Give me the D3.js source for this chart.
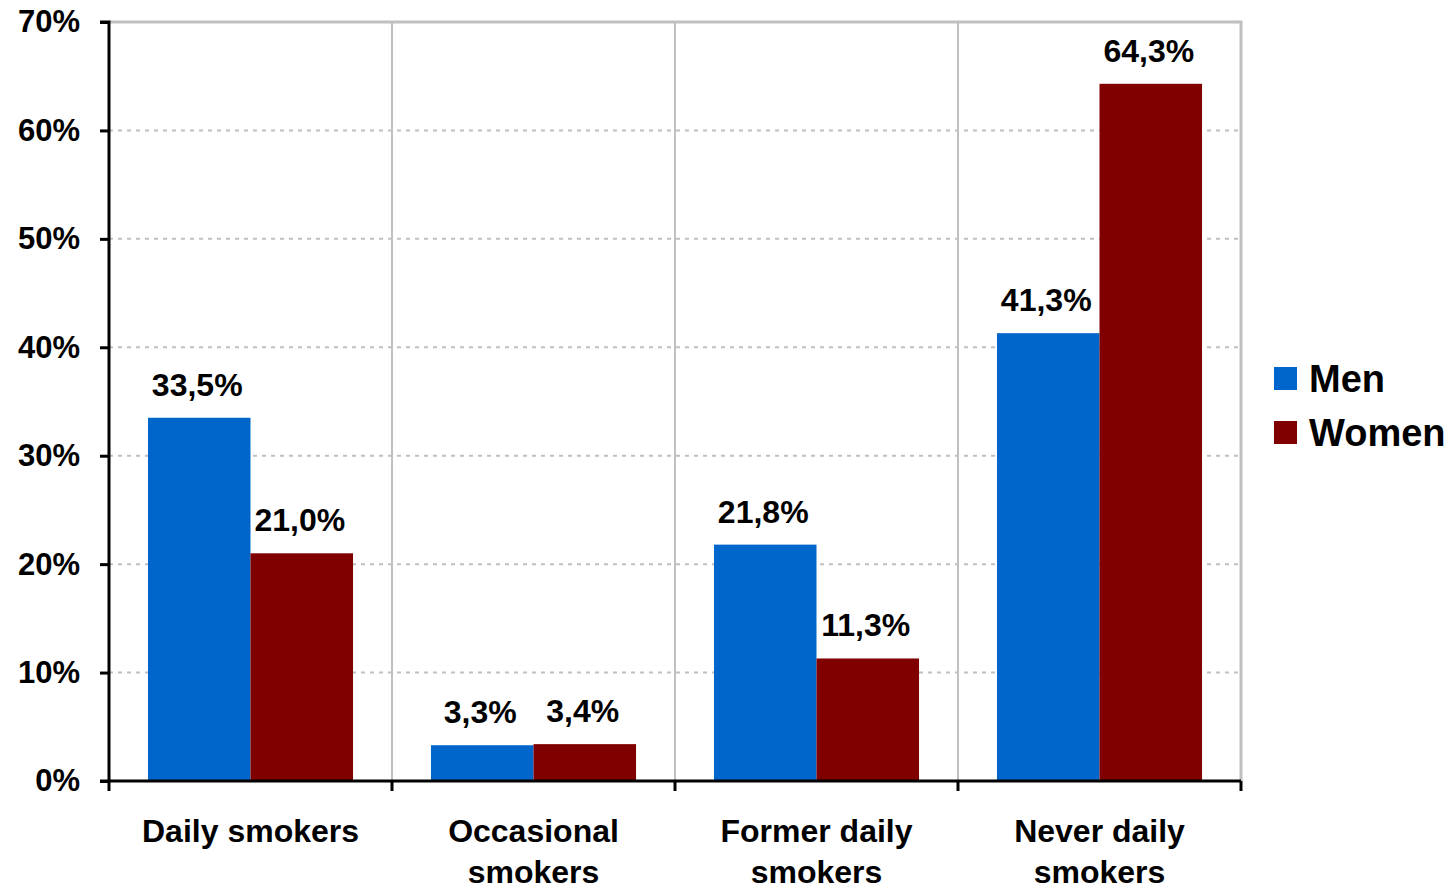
<!DOCTYPE html>
<html><head><meta charset="utf-8">
<script src="https://cdn.jsdelivr.net/npm/d3@7"></script>
<style>body{margin:0;background:#fff}svg{display:block}text{font-family:"Liberation Sans",Arial,sans-serif;font-weight:bold;fill:#000}</style>
</head><body>
<script>
const categories = [["Daily smokers"], ["Occasional", "smokers"], ["Former daily", "smokers"], ["Never daily", "smokers"]];
const seriesNames = ["Men", "Women"];
const men = [33.5, 3.3, 21.8, 41.3];
const women = [21.0, 3.4, 11.3, 64.3];
const yTicks = [0, 10, 20, 30, 40, 50, 60, 70];
const colors = ["#0066CC", "#800000"];

const W = 1455, H = 886;
const L = 109, R = 1241, T = 22, B = 781;
const svg = d3.select("body").append("svg").attr("width", W).attr("height", H);

const catKeys = categories.map(c => c.join(" "));
const x0 = d3.scaleBand().domain(catKeys).range([L, R]).padding(0);
const x1 = d3.scaleBand().domain(seriesNames).range([0, x0.bandwidth()]).paddingInner(0).paddingOuter(0.38);
const y = d3.scaleLinear().domain([0, 70]).range([B, T]);

// dashed horizontal grid
svg.append("g").selectAll("line").data(yTicks.filter(t => t > 0 && t < 70)).join("line")
  .attr("x1", L).attr("x2", R).attr("y1", d => y(d)).attr("y2", d => y(d))
  .attr("stroke", "#c0c0c0").attr("stroke-width", 2).attr("stroke-dasharray", "4,5");
// vertical category separators
svg.append("g").selectAll("line").data(catKeys.slice(1)).join("line")
  .attr("x1", d => x0(d)).attr("x2", d => x0(d)).attr("y1", T).attr("y2", B)
  .attr("stroke", "#c0c0c0").attr("stroke-width", 2);
// top & right border
svg.append("path").attr("d", `M${L},${y(70)}H${R}V${B}`).attr("fill", "none")
  .attr("stroke", "#c0c0c0").attr("stroke-width", 3);

// bars
const data = catKeys.map((c, i) => ({ cat: c, vals: [men[i], women[i]] }));
const groups = svg.append("g").selectAll("g").data(data).join("g")
  .attr("transform", d => `translate(${x0(d.cat)},0)`);
groups.selectAll("rect").data(d => d.vals.map((v, j) => ({ s: seriesNames[j], v, j }))).join("rect")
  .attr("x", d => x1(d.s)).attr("width", x1.bandwidth())
  .attr("y", d => y(d.v)).attr("height", d => y(0) - y(d.v))
  .attr("fill", d => colors[d.j]);
groups.selectAll("text").data(d => d.vals.map((v, j) => ({ s: seriesNames[j], v, j }))).join("text")
  .attr("x", d => x1(d.s) + x1.bandwidth() / 2 - 2).attr("y", d => y(d.v) - 22)
  .attr("text-anchor", "middle").style("font-size", "32px")
  .text(d => d.v.toFixed(1).replace(".", ",") + "%");

// y axis
const yAxis = svg.append("g").attr("transform", `translate(${L},0)`)
  .call(d3.axisLeft(y).tickValues(yTicks).tickSize(9).tickPadding(20).tickFormat(d => d + "%"));
yAxis.select(".domain").attr("stroke", "#000").attr("stroke-width", 3).attr("d", `M-9,${T}H0V${B}`);
yAxis.selectAll(".tick line").attr("stroke", "#000").attr("stroke-width", 3);
yAxis.selectAll(".tick text").style("font-size", "31px").style("font-family", "Liberation Sans, Arial, sans-serif").style("font-weight", "bold").attr("fill", "#000");

// x axis
const xAxis = svg.append("g").attr("transform", `translate(0,${B})`);
xAxis.append("line").attr("x1", L - 9).attr("x2", R).attr("y1", 0).attr("y2", 0).attr("stroke", "#000").attr("stroke-width", 3);
const bounds = catKeys.map(c => x0(c)).concat([x0(catKeys[catKeys.length - 1]) + x0.bandwidth()]);
xAxis.selectAll("line.tk").data(bounds).join("line").attr("class", "tk")
  .attr("x1", d => d).attr("x2", d => d).attr("y1", 0).attr("y2", 10)
  .attr("stroke", "#000").attr("stroke-width", 3);
const xl = xAxis.selectAll("text.cl").data(categories.map((c, i) => ({ lines: c, key: catKeys[i] }))).join("text")
  .attr("class", "cl").attr("text-anchor", "middle").style("font-size", "32px")
  .attr("transform", d => `translate(${x0(d.key) + x0.bandwidth() / 2},0)`);
xl.selectAll("tspan").data(d => d.lines).join("tspan").attr("x", 0).attr("y", (d, i) => 61 + i * 41).text(d => d);

// legend
const lg = svg.append("g").attr("transform", "translate(1274,367)");
seriesNames.forEach((s, i) => {
  lg.append("rect").attr("x", 0).attr("y", i * 54).attr("width", 23).attr("height", 23).attr("fill", colors[i]);
  lg.append("text").attr("x", 35).attr("y", i * 54 + 25).style("font-size", "38px").text(s);
});
</script>
</body></html>
